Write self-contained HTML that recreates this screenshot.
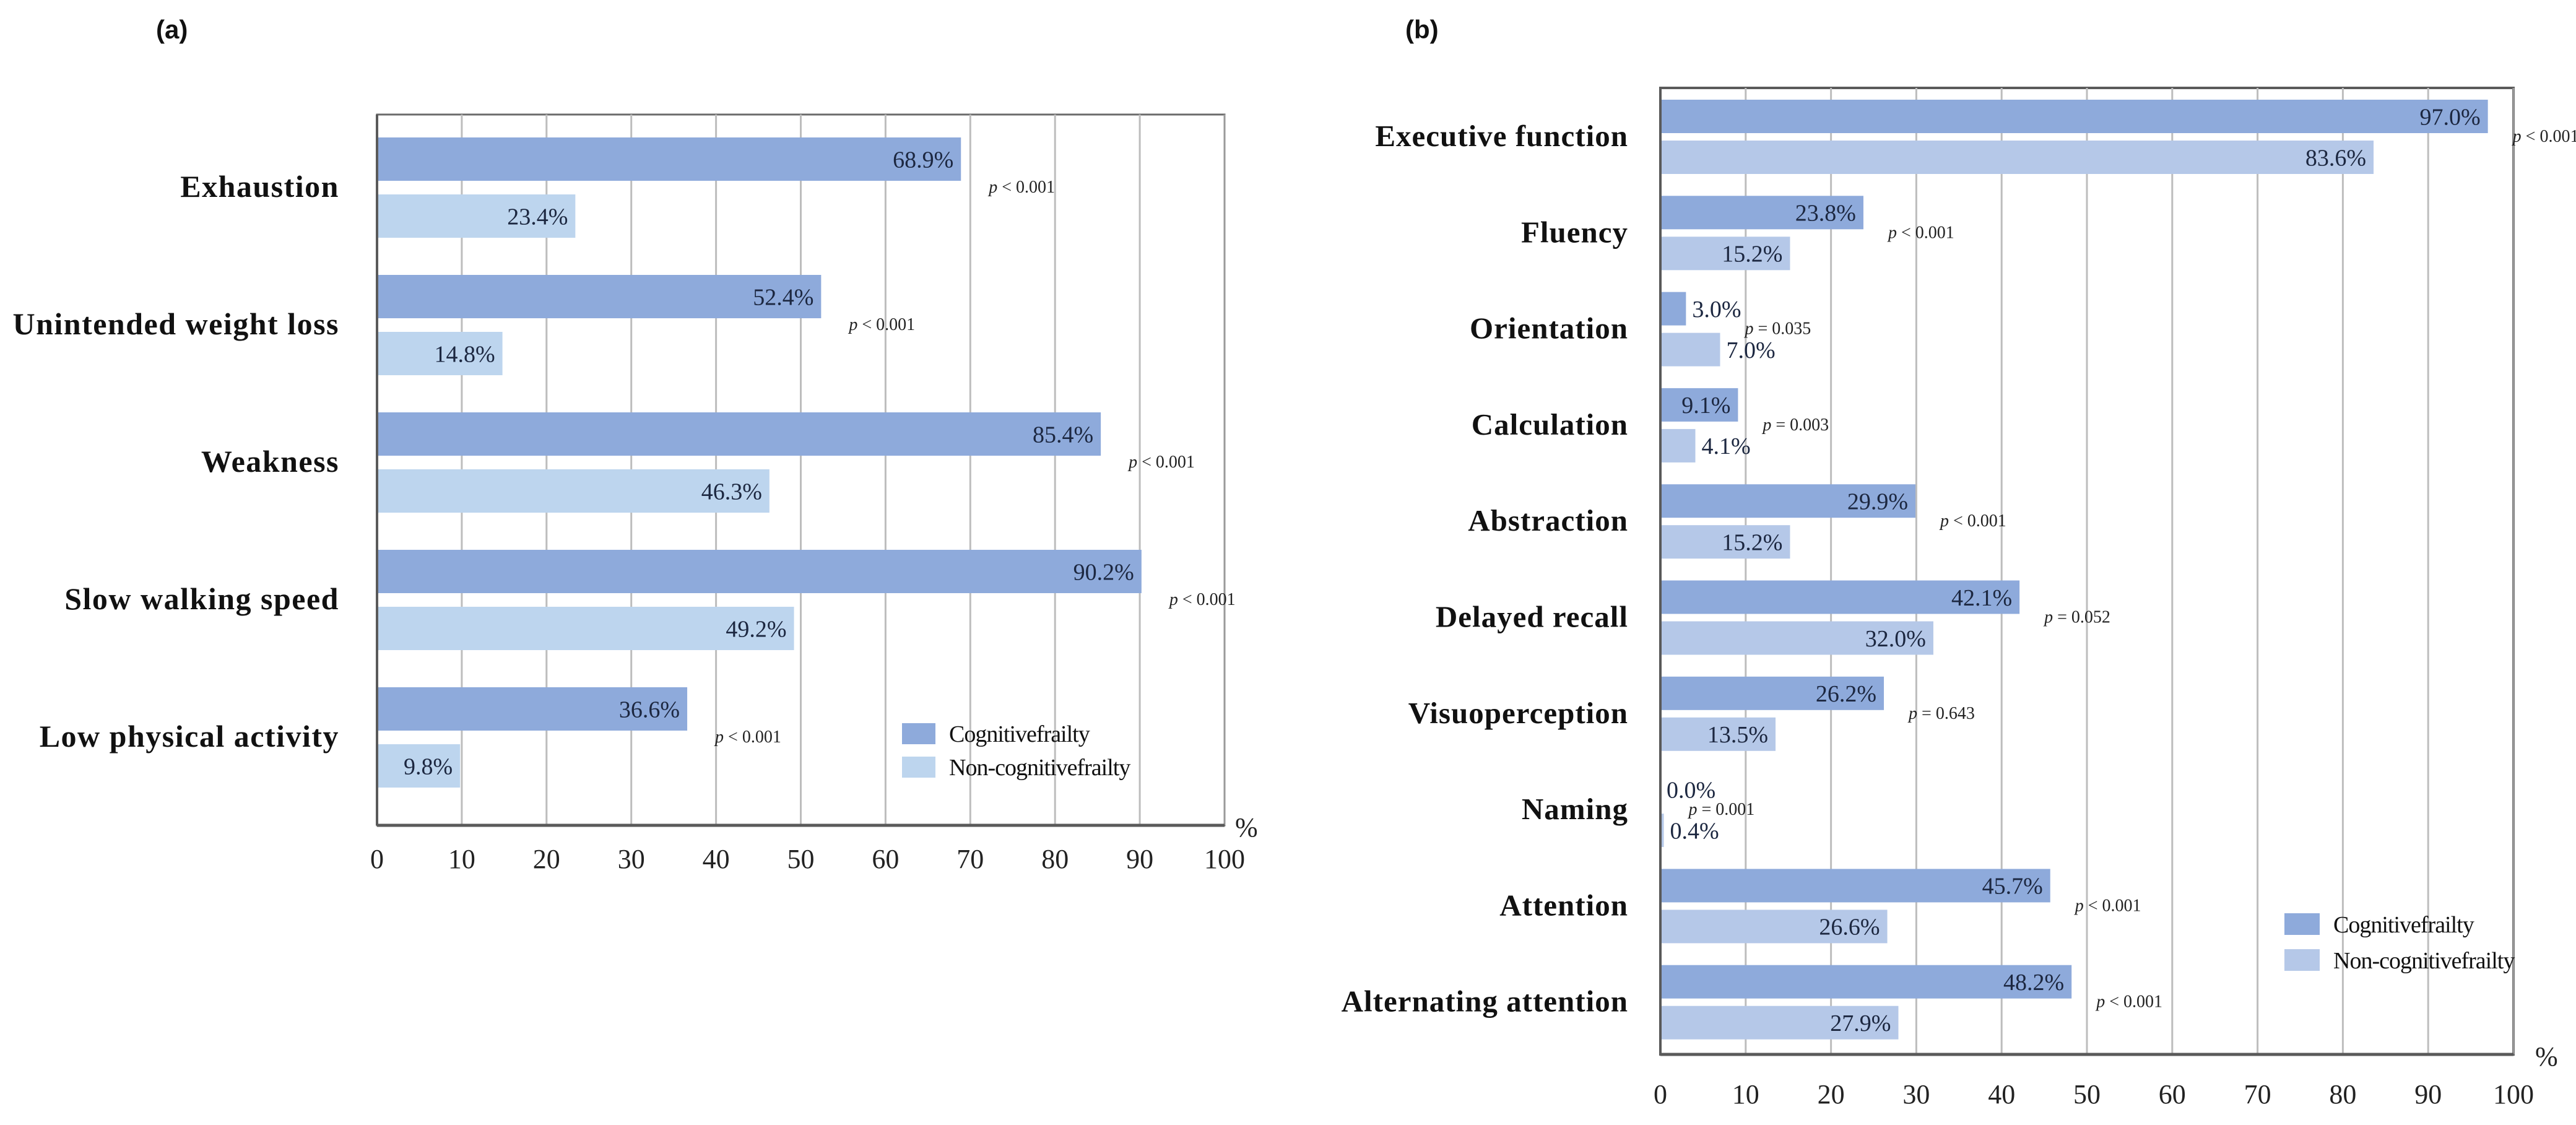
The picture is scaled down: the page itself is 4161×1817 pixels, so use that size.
<!DOCTYPE html>
<html><head><meta charset="utf-8"><style>
html,body{margin:0;padding:0;background:#fff;}
svg{display:block;}
</style></head><body>
<svg id="fig" width="4161" height="1817" viewBox="0 0 4161 1817" xmlns="http://www.w3.org/2000/svg">
<rect x="0" y="0" width="4161" height="1817" fill="#fff"/>
<text x="252" y="62" font-family="Liberation Sans, sans-serif" font-weight="bold" font-size="42" fill="#111">(a)</text>
<text x="2270" y="62" font-family="Liberation Sans, sans-serif" font-weight="bold" font-size="42" fill="#111">(b)</text>
<g id="chartA"></g>
<g id="chartB"></g>
</svg>
<script>
const xTicks = [0,10,20,30,40,50,60,70,80,90,100];
const aCategories = ["Exhaustion","Unintended weight loss","Weakness","Slow walking speed","Low physical activity"];
const aCog = [68.9,52.4,85.4,90.2,36.6];
const aNon = [23.4,14.8,46.3,49.2,9.8];
const aP = ["< 0.001","< 0.001","< 0.001","< 0.001","< 0.001"];
const bCategories = ["Executive function","Fluency","Orientation","Calculation","Abstraction","Delayed recall","Visuoperception","Naming","Attention","Alternating attention"];
const bCog = [97.0,23.8,3.0,9.1,29.9,42.1,26.2,0.0,45.7,48.2];
const bNon = [83.6,15.2,7.0,4.1,15.2,32.0,13.5,0.4,26.6,27.9];
const bP = ["< 0.001","< 0.001","= 0.035","= 0.003","< 0.001","= 0.052","= 0.643","= 0.001","< 0.001","< 0.001"];
const legendLabels = ["Cognitivefrailty","Non-cognitivefrailty"];

const NS="http://www.w3.org/2000/svg";
function mk(parent,tag,attrs,text){
  const e=document.createElementNS(NS,tag);
  for(const k in attrs) e.setAttribute(k,attrs[k]);
  if(text!==undefined) e.textContent=text;
  parent.appendChild(e);
  return e;
}
function draw(g,L,cats,cog,non,pv){
  const x=v=>L.left+(L.right-L.left)*v/100;
  const yc=i=>L.first+i*L.step;
  const fr=mk(g,'rect',{x:L.left,y:L.top,width:L.right-L.left,height:L.bottom-L.top,fill:'none',stroke:L.frame,'stroke-width':L.frameW});
  
  
  xTicks.forEach(t=>{
    if(t>0&&t<100){
      const gl=mk(g,'line',{x1:x(t),x2:x(t),y1:L.top,y2:L.bottom,stroke:'#bdbdbd','stroke-width':3});
      
      
    }
    const tl=mk(g,'text',{x:x(t),y:L.tickY,'text-anchor':'middle','font-family':'Liberation Serif, serif','font-size':L.tickF,fill:'#222'},String(t));
    
    
  });
  const rl=mk(g,'line',{x1:x(100),x2:x(100),y1:L.top,y2:L.bottom,stroke:'#9a9a9a','stroke-width':3});
  
  
  const ax=mk(g,'line',{x1:L.left,x2:x(100),y1:L.bottom,y2:L.bottom,stroke:'#5a5a5a','stroke-width':5});
  
  
  const ay=mk(g,'line',{x1:L.left,x2:L.left,y1:L.top,y2:L.bottom,stroke:'#5a5a5a','stroke-width':4});
  
  
  const pc=mk(g,'text',{x:L.pctX,y:L.bottom+18,'font-family':'Liberation Serif, serif','font-size':L.tickF,fill:'#222'},'%');
  
  
  cats.forEach((c,i)=>{
    const cy=yc(i);
    const lab=mk(g,'text',{x:L.labelX,y:cy+15,'text-anchor':'end','font-family':'Liberation Serif, serif','font-weight':'bold','font-size':L.catF,'letter-spacing':L.ls,fill:'#111'},c);
    
    
    [[cog[i],L.c1,cy-L.gap/2-L.bh,'bar-cognitive'],[non[i],L.c2,cy+L.gap/2,'bar-noncognitive']].forEach(([v,col,y0,nm])=>{
      const w=Math.max(x(v)-L.left,0);
      const r=mk(g,'rect',{x:L.left+2,y:y0,width:Math.max(w-2,v>0?2:0),height:L.bh,fill:col});
      
      
      const inside=w>100;
      const t=mk(g,'text',{x:inside?x(v)-12:x(v)+10,y:y0+L.bh/2+L.valF*0.35,'text-anchor':inside?'end':'start','font-family':'Liberation Serif, serif','font-size':L.valF,fill:'#1c2740'},v.toFixed(1)+'%');
      
      
    });
    const pt=mk(g,'text',{x:x(Math.max(cog[i],non[i]))+L.pOff,y:cy+8,'font-family':'Liberation Serif, serif','font-size':L.pF,fill:'#222'});
    
    
    mk(pt,'tspan',{'font-style':'italic'},'p');
    mk(pt,'tspan',{},' '+pv[i]);
  });
  legendLabels.forEach((s,k)=>{
    const sy=L.legY+k*L.legStep;
    const sw=mk(g,'rect',{x:L.legX,y:sy,width:L.legSw,height:L.legSh,fill:k?L.c2:L.c1});
    
    
    const lt=mk(g,'text',{x:L.legX+L.legSw+22,y:sy+L.legSh-4,'font-family':'Liberation Serif, serif','font-size':L.legF,'letter-spacing':-1,fill:'#111'},s);
    
    
  });
}
draw(document.getElementById('chartA'),{left:609,right:1978,top:185,bottom:1333,first:303,step:222,bh:70,gap:22,
  c1:'#8eaadb',c2:'#bdd5ee',frame:'#6b6b6b',frameW:3,labelX:548,catF:50,ls:1.5,valF:38,pF:28,pOff:45,tickF:44,tickY:1402,pctX:1995,
  legX:1457,legY:1168,legStep:54,legSw:54,legSh:34,legF:38},aCategories,aCog,aNon,aP);
draw(document.getElementById('chartB'),{left:2682,right:4060,top:142,bottom:1703,first:221,step:155.3,bh:54,gap:12,
  c1:'#8eaadb',c2:'#b5c8e8',frame:'#5a5a5a',frameW:4,labelX:2630,catF:49,ls:1,valF:38,pF:28,pOff:40,tickF:44,tickY:1782,pctX:4095,
  legX:3690,legY:1475,legStep:58,legSw:57,legSh:35,legF:38},bCategories,bCog,bNon,bP);
</script>
</body></html>
